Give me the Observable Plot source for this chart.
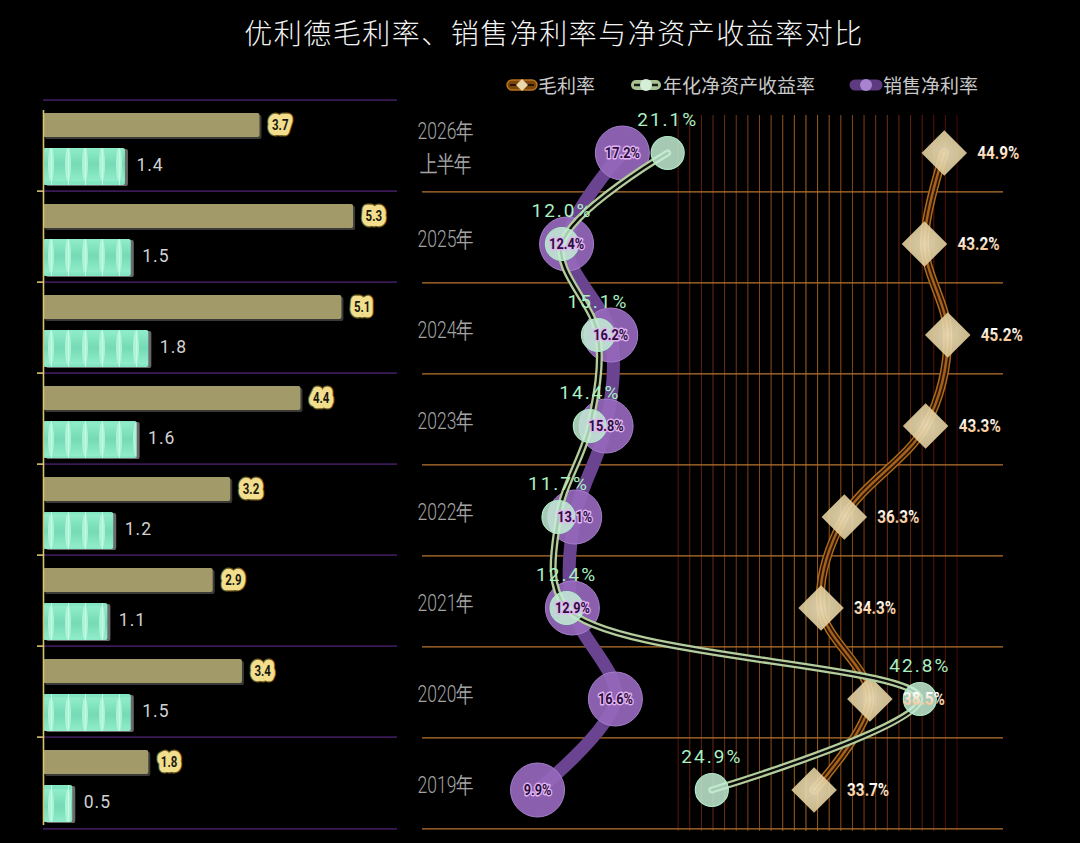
<!DOCTYPE html>
<html><head><meta charset="utf-8">
<script src="https://cdn.jsdelivr.net/npm/d3@7"></script>
<script src="https://cdn.jsdelivr.net/npm/@observablehq/plot@0.6"></script>
<style>
html,body{margin:0;padding:0;background:#000;}
#wrap{position:relative;width:1080px;height:843px;background:#000;overflow:hidden;}
#title{position:absolute;left:0;top:14px;width:1108px;text-align:center;color:#f4f4f4;font:300 28px/36px "Noto Sans CJK SC",sans-serif;letter-spacing:1.5px;}
.lg{position:absolute;top:73px;height:24px;line-height:24px;color:#c9c9c9;font:400 19px/24px "Noto Sans CJK SC",sans-serif;}
.sw{position:absolute;top:77px;}
#left,#right{position:absolute;top:0;}
#left{left:0;} #right{left:400px;}
</style></head>
<body><div id="wrap">
<div id="title">优利德毛利率、销售净利率与净资产收益率对比</div>
<svg class="sw" style="left:505px" width="34" height="16" viewBox="0 0 34 16">
  <rect x="2" y="3" width="30" height="10" rx="5" fill="#7a4508" stroke="#b8731f" stroke-width="1.5"/>
  <line x1="5" x2="29" y1="8" y2="8" stroke="#2a1405" stroke-width="2"/>
  <path d="M17,2 L23,8 L17,14 L11,8Z" fill="#ead8ab"/>
</svg>
<div class="lg" style="left:538px">毛利率</div>
<svg class="sw" style="left:629px" width="34" height="16" viewBox="0 0 34 16">
  <rect x="2" y="3" width="30" height="10" rx="5" fill="#a9c293"/>
  <line x1="5" x2="29" y1="8" y2="8" stroke="#1a1a1a" stroke-width="2.5"/>
  <circle cx="17" cy="8" r="6" fill="#d4eed8"/>
</svg>
<div class="lg" style="left:663px">年化净资产收益率</div>
<svg class="sw" style="left:849px" width="34" height="16" viewBox="0 0 34 16">
  <line x1="6" x2="28" y1="8" y2="8" stroke="#5e3a80" stroke-width="11" stroke-linecap="round"/>
  <circle cx="17" cy="8" r="6" fill="#a883cf"/>
</svg>
<div class="lg" style="left:883px">销售净利率</div>
<div id="left"></div>
<div id="right"></div>
</div>
<script>
const years = ["2026年\n上半年","2025年","2024年","2023年","2022年","2021年","2020年","2019年"];
const grossMargin = [44.9,43.2,45.2,43.3,36.3,34.3,38.5,33.7];
const roe = [21.1,12.0,15.1,14.4,11.7,12.4,42.8,24.9];
const netMargin = [17.2,12.4,16.2,15.8,13.1,12.9,16.6,9.9];
const barA = [3.7,5.3,5.1,4.4,3.2,2.9,3.4,1.8];
const barB = [1.4,1.5,1.8,1.6,1.2,1.1,1.5,0.5];
const gridVals = d3.range(22, 47);

const rows = years.map((y,i)=>({year:y, gm:grossMargin[i], roe:roe[i], nm:netMargin[i], a:barA[i], b:barB[i]}));
const bw = (831 - 97) / years.length;
const pct = v => v.toFixed(1) + "%";

function condense(svg, family, sx) {
  d3.select(svg).selectAll(`g[font-family="${family}"] text`).each(function() {
    const t = this.getAttribute("transform") || "";
    this.setAttribute("transform", (t + ` scale(${sx},1)`).trim());
  });
}
const F1 = "Roboto, sans-serif";
const F2 = "'Roboto', sans-serif";
const F3 = "'Roboto',sans-serif";

// ---------- left chart ----------
const left = Plot.plot({
  width: 400, height: 843, marginLeft: 43, marginRight: 3, marginTop: 97, marginBottom: 12,
  style: {background: "transparent", color: "#ccc", fontFamily: F1, overflow: "visible"},
  x: {domain: [0, 6.05], axis: null},
  y: {type: "band", domain: years, padding: 0, axis: null},
  marks: [
    Plot.ruleY(years, {y: d => d, dy: -bw/2, stroke: "#3c1a58", strokeWidth: 1.6}),
    Plot.ruleY(years.slice(-1), {y: d => d, dy: bw/2, stroke: "#3c1a58", strokeWidth: 1.6}),
    Plot.barX(rows, {x: "a", y: "year", insetTop: 13, insetBottom: 54, fill: "#3a3a36", dx: 2, dy: 2, rx: 2}),
    Plot.barX(rows, {x: "b", y: "year", insetTop: 48, insetBottom: 6, fill: "#6a6a6a", dx: 3, dy: 1, rx: 2}),
    Plot.barX(rows, {x: "a", y: "year", insetTop: 13, insetBottom: 54, fill: "#a39a6a", rx: 2}),
    Plot.barX(rows, {x: "b", y: "year", insetTop: 48, insetBottom: 6, fill: "url(#aquaPat)", rx: 2}),
    Plot.ruleX([0], {insetTop: 13, insetBottom: 6, stroke: "#d8c470", strokeWidth: 1.6}),
    Plot.axisY(years.slice(1), {tickSize: 6, tickFormat: () => "", label: null, dy: -bw/2, stroke: "#d8c470", strokeWidth: 1.6}),
    Plot.text(rows, {x: "a", y: "year", text: d => d.a.toFixed(1), dx: 12, dy: 25.5 - bw/2, textAnchor: "start",
      fill: "#1a1a10", stroke: "#6a5a22", strokeWidth: 13, strokeLinejoin: "round", fontWeight: "bold", fontSize: 14, fontFamily: F3}),
    Plot.text(rows, {x: "a", y: "year", text: d => d.a.toFixed(1), dx: 12, dy: 25.5 - bw/2, textAnchor: "start",
      fill: "#1a1a10", stroke: "#f2de8c", strokeWidth: 10.5, strokeLinejoin: "round", fontWeight: "bold", fontSize: 14, fontFamily: F3}),
    Plot.text(rows, {x: "b", y: "year", text: d => d.b.toFixed(1), dx: 11, dy: 65 - bw/2, textAnchor: "start",
      fill: "#d2d2d2", fontSize: 17.5, fontFamily: F1})
  ]
});
d3.select(left).insert("defs", ":first-child").html(`
  <linearGradient id="aquaGrad" x1="0" x2="0" y1="0" y2="1">
    <stop offset="0" stop-color="#98f0cf"/><stop offset="0.5" stop-color="#6fd5b0"/><stop offset="1" stop-color="#98f0cf"/>
  </linearGradient>
  <pattern id="aquaPat" patternUnits="userSpaceOnUse" x="51" y="97" width="17" height="${bw}">
    <rect x="0" y="0" width="17" height="${bw}" fill="#82e6c2"/>
    <rect x="0" y="50" width="17" height="34" fill="url(#aquaGrad)" opacity="0.7"/>
    <ellipse cx="0" cy="67" rx="3" ry="17" fill="#b6f7dc" opacity="0.85"/>
    <ellipse cx="17" cy="67" rx="3" ry="17" fill="#b6f7dc" opacity="0.85"/>
    <line x1="0.5" x2="0.5" y1="0" y2="${bw}" stroke="#c4fae3" stroke-width="1"/>
  </pattern>`);
d3.select(left).selectAll(`g[font-family="${F1}"] text`).style("letter-spacing", "1px");
condense(left, F3, 0.82);
document.getElementById("left").appendChild(left);

// ---------- right chart ----------
const gridColor = v => d3.interpolateRgb("#a8681c", "#4c0808")(Math.pow(Math.abs(v - 33) / 13, 0.9));
const off = 7;
const right = Plot.plot({
  width: 680, height: 843, marginLeft: 22, marginRight: 77, marginTop: 97, marginBottom: 12,
  style: {background: "transparent", color: "#ccc", fontFamily: F1, overflow: "visible"},
  x: {domain: [0, 50], axis: null},
  y: {type: "band", domain: years, padding: 0, axis: null},
  color: {type: "identity"},
  marks: [
    Plot.ruleX(gridVals, {x: d => d, stroke: d => gridColor(d), strokeWidth: 1, insetTop: 18}),
    Plot.ruleY(years, {y: d => d, dy: bw/2, stroke: "#b8742e", strokeWidth: 1.3}),
    Plot.text(years, {y: d => d, frameAnchor: "left", textAnchor: "middle", dx: 23, dy: -1, fill: "#a4a4a4",
      fontSize: 23, lineHeight: 1.45, fontWeight: 300, fontFamily: F2}),
    // gross margin
    Plot.line(rows, {x: "gm", y: "year", dy: off, curve: "catmull-rom", stroke: "#b06a1a", strokeWidth: 9, strokeLinecap: "round"}),
    Plot.line(rows, {x: "gm", y: "year", dy: off, curve: "catmull-rom", stroke: "#2a1406", strokeWidth: 6}),
    Plot.line(rows, {x: "gm", y: "year", dy: off, curve: "catmull-rom", stroke: "#a5621c", strokeWidth: 2.5}),
    Plot.dot(rows, {x: "gm", y: "year", dy: off, symbol: "diamond2", r: 20.5, fill: "url(#gmFill)", fillOpacity: 0.9}),
    // net margin
    Plot.line(rows, {x: "nm", y: "year", dy: off, curve: "catmull-rom", stroke: "#6a4490", strokeWidth: 13, strokeLinecap: "round"}),
    Plot.dot(rows, {x: "nm", y: "year", dy: off, r: 27, fill: "#9668bd", fillOpacity: 0.92, stroke: "#a57fcb", strokeWidth: 1}),
    // ROE
    Plot.line(rows, {x: "roe", y: "year", dy: off, curve: "catmull-rom", stroke: "#b4cd9c", strokeWidth: 7, strokeLinecap: "round"}),
    Plot.line(rows, {x: "roe", y: "year", dy: off, curve: "catmull-rom", stroke: "#0c0c0c", strokeWidth: 2.4, strokeLinecap: "round"}),
    Plot.dot(rows, {x: "roe", y: "year", dy: off, r: 16.5, fill: "#c6f0d6", fillOpacity: 0.84, stroke: "#aee8c6", strokeWidth: 1.2}),
    // labels
    Plot.text(rows, {x: "gm", y: "year", dy: off, dx: 33, text: d => pct(d.gm), textAnchor: "start",
      fill: "url(#gmText)", fontWeight: "bold", fontSize: 18, fontFamily: F3}),
    Plot.text(rows, {x: "nm", y: "year", dy: off, text: d => pct(d.nm),
      fill: "#2a0f3d", stroke: "#e2b4f2", strokeWidth: 3, fontWeight: "bold", fontSize: 15, fontFamily: F3}),
    Plot.text(rows, {x: "roe", y: "year", dy: off - 33, text: d => pct(d.roe),
      fill: "#aaf0c3", fontSize: 19, fontFamily: F1})
  ]
});
d3.select(right).insert("defs", ":first-child").html(`
  <radialGradient id="gmFill" cx="0.5" cy="0.5" r="0.6">
    <stop offset="0" stop-color="#f0e2bc"/><stop offset="1" stop-color="#dcc690"/>
  </radialGradient>
  <linearGradient id="gmText" x1="0" x2="0" y1="0" y2="1">
    <stop offset="0.2" stop-color="#ffffff"/><stop offset="1" stop-color="#f4b070"/>
  </linearGradient>`);
d3.select(right).selectAll(`g[font-family="${F1}"] text`).style("letter-spacing", "2px");
condense(right, F2, 0.76);
condense(right, F3, 0.85);
document.getElementById("right").appendChild(right);
</script>
</body></html>
